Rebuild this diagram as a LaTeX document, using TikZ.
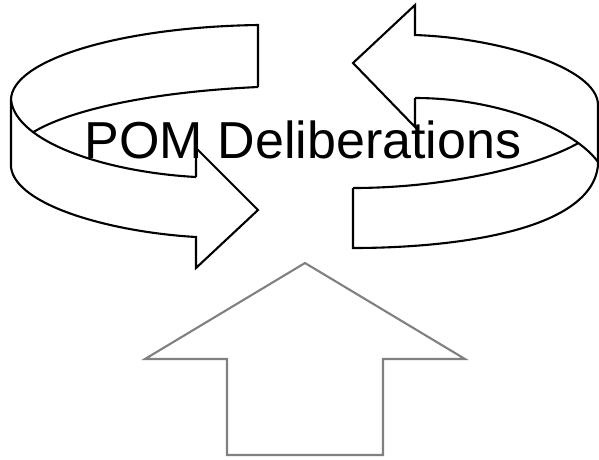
\documentclass[tikz,border=0pt]{standalone}
\usepackage{fontspec}
\setmainfont{Liberation Sans}
\definecolor{arrowgray}{RGB}{128,128,128}
\begin{document}
\begin{tikzpicture}[x=1pt,y=-1pt,
  ribbon/.style={-,color=black,line width=2.1pt},
  uparrow/.style={-,color=arrowgray,line width=2.1pt}]
\useasboundingbox (0,0) rectangle (599,459);

% left ribbon, head in front
\draw[ribbon] (258,87) -- (258,25) .. controls (120,27) and (11,60) .. (11,100)
  -- (11,167) .. controls (15,205) and (110,232) .. (196,237)
  -- (196,268) -- (258,210) -- (196,148) -- (196,177);
\draw[ribbon] (11,100) .. controls (16,142) and (105,172) .. coordinate[pos=0.28] (lmeet) (196,177);
\draw[ribbon] (258,87) .. controls (150,92) and (70,110) .. (lmeet);

%%%%%%%%%%%%%%%%%%%%%%%%%%%%%%%%%%%%%%%%%%%%
% right ribbon, head at the back
\draw[ribbon] (353,188) -- (353,248) .. controls (450,248) and (592,232) .. (598,165)
  -- (598,105) .. controls (598,68) and (500,38) .. (415,35)
  -- (415,5) -- (353,63) -- (415,127) -- (415,98);
\draw[ribbon] (415,98) .. controls (500,98) and (575,130) .. coordinate[pos=0.8] (rmeet) (598,162);
\draw[ribbon] (353,188) .. controls (450,188) and (540,165) .. (rmeet);

%%%%%%%%%%%%%%%%%%%%%%%%%%%%%%%%%%%%%%%%%%%%
% input arrow
\draw[uparrow] (305,263) -- (465,359) -- (383,359) -- (383,455)
  -- (227,455) -- (227,359) -- (145,359) -- cycle;

\node[anchor=base,inner sep=0pt,font=\fontsize{52}{52}\selectfont] (title) at (303,158) {POM Deliberations};

\end{tikzpicture}
\end{document}
